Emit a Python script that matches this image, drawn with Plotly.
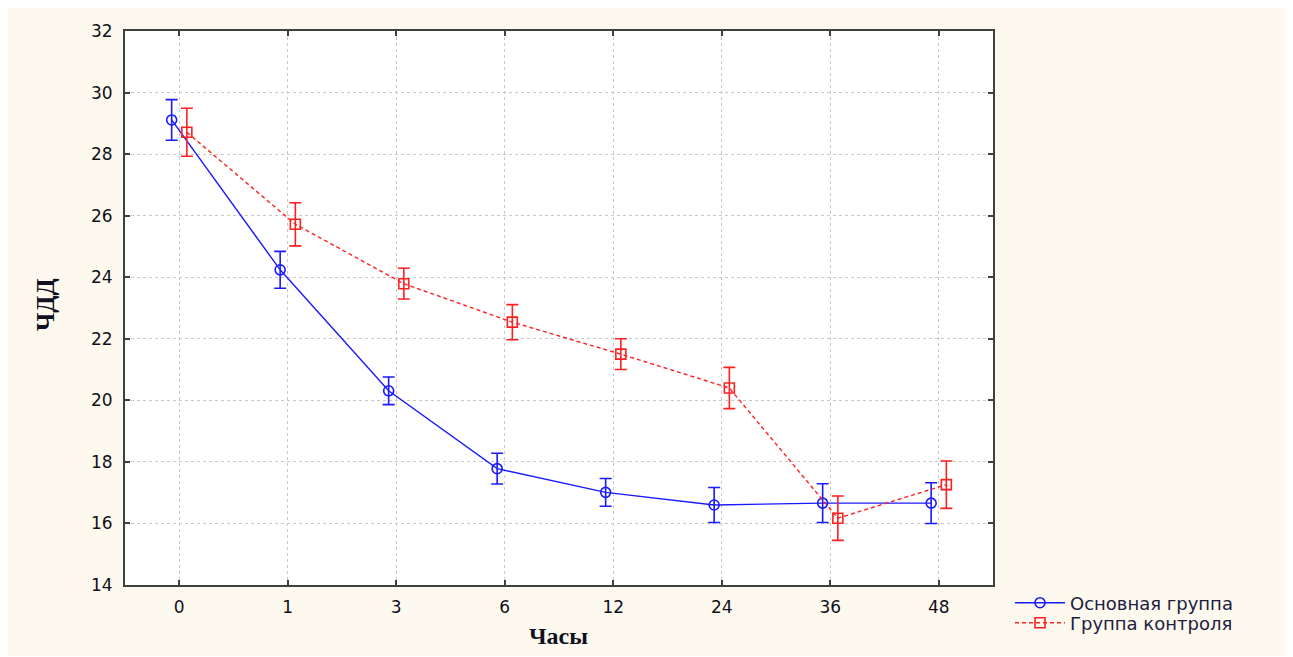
import plotly.graph_objects as go

hours = ["0", "1", "3", "6", "12", "24", "36", "48"]
main_mean = [29.11, 24.24, 20.31, 17.78, 17.01, 16.60, 16.66, 16.66]
main_err = [0.66, 0.60, 0.45, 0.50, 0.45, 0.57, 0.63, 0.66]
ctrl_mean = [28.71, 25.72, 23.79, 22.54, 21.50, 20.40, 16.17, 17.26]
ctrl_err = [0.78, 0.70, 0.50, 0.57, 0.50, 0.67, 0.72, 0.77]
y_ticks = [14, 16, 18, 20, 22, 24, 26, 28, 30, 32]

dodge = 0.07
idx = list(range(len(hours)))

fig = go.Figure()
fig.add_trace(go.Scatter(
    x=[i - dodge for i in idx], y=main_mean, name="Основная группа",
    mode="lines+markers", legend="legend",
    line=dict(color="#1a1aff", width=1.4),
    marker=dict(symbol="circle-open", size=10, color="#1a1aff", line=dict(width=1.6)),
    error_y=dict(type="data", array=main_err, color="#1a1aff", thickness=1.6, width=6),
))
fig.add_trace(go.Scatter(
    x=[i + dodge for i in idx], y=ctrl_mean, name="Группа контроля",
    mode="lines+markers", legend="legend2",
    line=dict(color="#ff2020", width=1.4, dash="4px,3px"),
    marker=dict(symbol="square-open", size=10, color="#ff2020", line=dict(width=1.6)),
    error_y=dict(type="data", array=ctrl_err, color="#ff2020", thickness=1.6, width=6),
))

OFF = 8  # page body margin
W, H = 1285, 648
L, R, T, B = 117, 300, 23, 71
pw, ph = W - L - R, H - T - B

def px_x(px):
    return (px - OFF - L) / pw

def px_y(py):
    return (H - B - (py - OFF)) / ph

legend_font = dict(family="DejaVu Sans", size=18, color="#202040")
leg_common = dict(xanchor="left", yanchor="middle", bgcolor="rgba(0,0,0,0)",
                  font=legend_font, itemwidth=50, borderwidth=0)

cream = "#fef9ee"
fig.update_layout(
    width=W, height=H,
    margin=dict(l=L, r=R, t=T, b=B, autoexpand=False),
    paper_bgcolor=cream,
    plot_bgcolor="white",
    showlegend=True,
    legend=dict(x=px_x(1010), y=px_y(603), **leg_common),
    legend2=dict(x=px_x(1010), y=px_y(623), **leg_common),
    font=dict(family="DejaVu Sans", size=17, color="#101018"),
    annotations=[
        dict(text="<b>ЧДД</b>", xref="paper", yref="paper", x=px_x(45), y=px_y(305),
             xanchor="center", yanchor="middle",
             showarrow=False, textangle=-90,
             font=dict(family="Liberation Serif", size=25, color="#101020")),
        dict(text="<b>Часы</b>", xref="paper", yref="paper", x=px_x(558), y=px_y(636),
             xanchor="center", yanchor="middle",
             showarrow=False, font=dict(family="Liberation Serif", size=24, color="#101020")),
    ],
)
fig.update_xaxes(
    range=[-0.5, 7.5], tickmode="array", tickvals=idx, ticktext=hours,
    showgrid=True, gridcolor="#c8c8c8", griddash="dot", gridwidth=1,
    showline=True, linecolor="#404040", linewidth=2, mirror="ticks",
    ticks="inside", ticklen=5, tickcolor="#404040", tickwidth=1.5,
    tickfont=dict(size=17), zeroline=False, ticklabelstandoff=6,
)
fig.update_yaxes(
    range=[14, 32], tickmode="array", tickvals=y_ticks,
    showgrid=True, gridcolor="#c8c8c8", griddash="dot", gridwidth=1,
    showline=True, linecolor="#404040", linewidth=2, mirror="ticks",
    ticks="inside", ticklen=5, tickcolor="#404040", tickwidth=1.5,
    tickfont=dict(size=17), zeroline=False, ticklabelstandoff=7,
)
fig.write_html("out.html")
